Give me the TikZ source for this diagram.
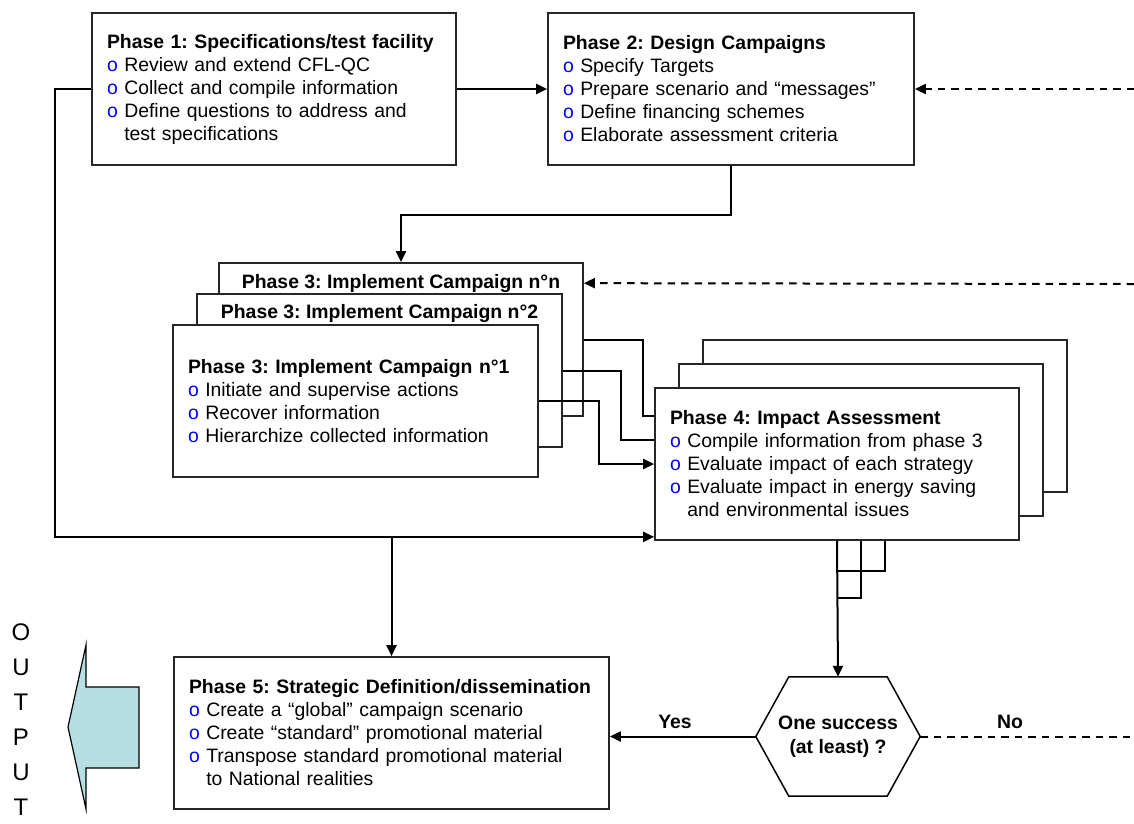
\documentclass[tikz,border=0pt]{standalone}
\usepackage{fontspec}
\setmainfont{Liberation Sans}
\usetikzlibrary{arrows.meta,calc}
\pgfdeclarelayer{back}
\pgfdeclarelayer{mid}
\pgfsetlayers{back,mid,main}
\definecolor{bul}{RGB}{0,0,255}
\definecolor{outfill}{RGB}{183,222,226}
\newcommand\bu{{\color{bul}o}\ }
\newcommand\ind{\hphantom{o}\ }
\frenchspacing
\hyphenpenalty=10000
\begin{document}
\begin{tikzpicture}[x=1pt,y=-1pt,
  box/.style={draw=black!85, line width=1.7pt, fill=white, inner xsep=15pt, inner ysep=0pt,
    align=left, text width=#1, font=\fontsize{19.4}{23}\selectfont\frenchspacing, minimum height=152pt},
  box/.default=334pt,
  ttl/.style={font=\fontsize{19.4}{23}\selectfont\bfseries\frenchspacing, inner sep=0pt},
  lbl/.style={font=\fontsize{19.4}{23}\selectfont\bfseries, inner sep=0pt},
  conn/.style={line width=2pt, -{Triangle[length=11pt,width=10pt]}},
  plain/.style={line width=2pt},
  dconn/.style={line width=2pt, dash pattern=on 7.5pt off 6pt, -{Triangle[length=11pt,width=10pt]}},
  dplain/.style={line width=2pt, dash pattern=on 7.5pt off 6pt},
  hexn/.style={minimum width=164pt, minimum height=119pt, inner sep=0pt, align=center,
    font=\fontsize{19.4}{24.5}\selectfont\bfseries},
  outtxt/.style={align=center, inner sep=0pt, font=\fontsize{24}{35}\selectfont}
]
\useasboundingbox (0,0) rectangle (1134,823);

% Phase 1 and 2
\node[box] (p1) at (274,89) {\textbf{Phase 1: Specifications/test facility}\\
  \bu Review and extend CFL-QC\\
  \bu Collect and compile information\\
  \bu Define questions to address and\\
  \ind test specifications};
\node[box=336pt] (p2) at (731,89) {\textbf{Phase 2: Design Campaigns}\\
  \bu Specify Targets\\
  \bu Prepare scenario and “messages”\\
  \bu Define financing schemes\\
  \bu Elaborate assessment criteria};

% Phase 3 stack and phase 4 back boxes
\begin{pgfonlayer}{back}
\node[box, minimum height=153pt] (p3n) at (401,339.5) {};
\node[ttl] (p3nt) at ($(p3n.north)+(0,21)$) {Phase 3: Implement Campaign n°n};
\node[box=335pt, minimum height=153pt] (p3b) at (379.5,370.5) {};
\node[ttl] (p3bt) at ($(p3b.north)+(0,20)$) {Phase 3: Implement Campaign n°2};
\node[box=335pt] (p3a) at (355.5,401) {\textbf{Phase 3: Implement Campaign n°1}\\
  \bu Initiate and supervise actions\\
  \bu Recover information\\
  \bu Hierarchize collected information};
\node[box] (p4c) at (885,416) {};
\node[box] (p4b) at (861,440) {};
\end{pgfonlayer}

\node[box] (p4a) at (837,464) {\textbf{Phase 4: Impact Assessment}\\
  \bu Compile information from phase 3\\
  \bu Evaluate impact of each strategy\\
  \bu Evaluate impact in energy saving\\
  \ind and environmental issues};

\begin{pgfonlayer}{mid}
\draw[conn] (p3n.east) -- ++(59,0) |- (p4c.west);
\draw[conn] (p3b.east) -- ++(58,0) |- (p4b.west);
\draw[conn] (p3a.east) -- ++(60,0) |- (p4a.west);
\draw[plain] (p4c.south) |- ($(p4a.south)+(0,30)$);
\draw[plain] (p4b.south) |- ($(p4a.south)+(0,57)$);
\end{pgfonlayer}

% Phase 5
\node[box=405pt] (p5) at (391.5,733) {\textbf{Phase 5: Strategic Definition/dissemination}\\
  \bu Create a “global” campaign scenario\\
  \bu Create “standard” promotional material\\
  \bu Transpose standard promotional material\\
  \ind to National realities};

% Decision hexagon
\node[hexn] (hex) at (838,736.5) {One success\\(at least) ?};
\draw[line width=1.5pt, line join=miter] (hex.west) -- ($(hex.north west)+(33,0)$) -- ($(hex.north east)+(-33,0)$)
  -- (hex.east) -- ($(hex.south east)+(-33,0)$) -- ($(hex.south west)+(33,0)$) -- cycle;
\node[lbl] (yes) at (675,722) {Yes};
\node[lbl] (no) at (1010,722) {No};

% Connectors
\coordinate (r1) at (1134,89);
\coordinate (r2) at (1134,284);
\coordinate (r3) at (1134,736.5);
\coordinate (p3nin) at ($(p3n.north east)+(0,21)$);
\coordinate (p4in) at ($(p4a.south west)+(0,-4)$);
\draw[conn] (p1.east) -- (p2.west);
\draw[dconn] (r1) -- (p2.east);
\draw[conn] (p2.south) -- ++(0,49) -| (p3n.north);
\draw[dconn] (r2) -- (p3nin);
\draw[conn] (p1.west) -- ++(-36,0) |- (p4in);
\draw[conn] (p5.north |- p4in) -- (p5.north);
\draw[conn] (p4a.south) -- (hex.north);
\draw[conn] (hex.west) -- (hex.west -| p5.east);
\draw[dplain] (hex.east) -- (r3);

% OUTPUT arrow
\draw[line width=1.2pt, fill=outfill, line join=miter] (139,687) -- (86,687) -- (86,645) -- (68,727)
  -- (86,809) -- (86,768) -- (139,768) -- cycle;
\node[outtxt] (outt) at (21,720) {O\\U\\T\\P\\U\\T};
\end{tikzpicture}
\end{document}
